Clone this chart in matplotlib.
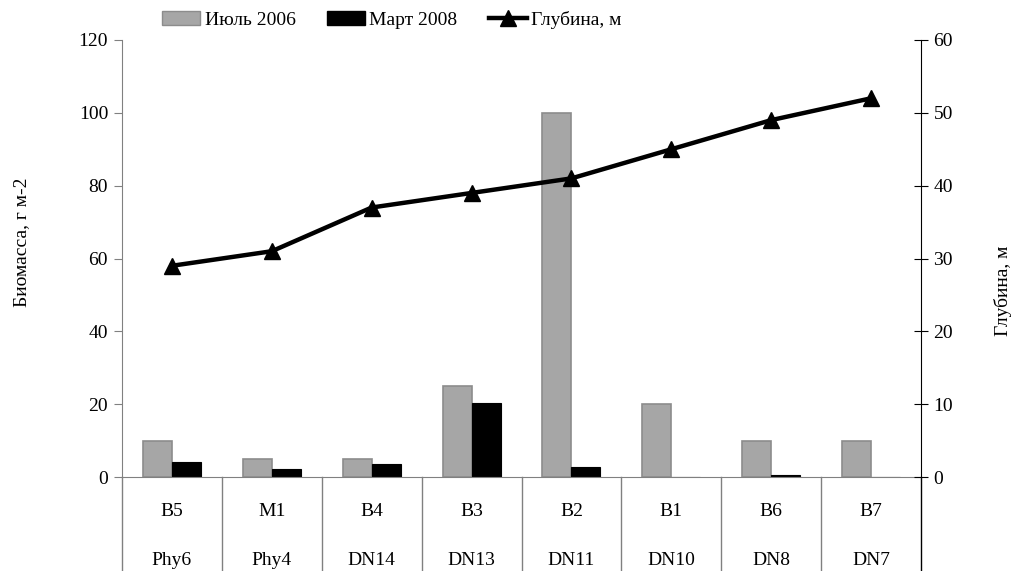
import matplotlib
matplotlib.use("Agg")
import matplotlib.pyplot as plt
import numpy as np
from matplotlib.lines import Line2D

plt.rcParams['font.family'] = ['Liberation Serif', 'DejaVu Serif']

stations = ["B5", "M1", "B4", "B3", "B2", "B1", "B6", "B7"]
sites = ["Phy6", "Phy4", "DN14", "DN13", "DN11", "DN10", "DN8", "DN7"]
biomass_jul2006 = [10, 5, 5, 25, 100, 20, 10, 10]
biomass_mar2008 = [4.2, 2.2, 3.7, 20.2, 2.7, 0, 0.5, 0]
depth = [29, 31, 37, 39, 41, 45, 49, 52]

fig = plt.figure(figsize=(10.15, 5.71), dpi=100)
ax = fig.add_axes([122 / 1015, 1 - 477 / 571, 799 / 1015, 437 / 571])
ax2 = ax.twinx()

x = np.arange(len(stations))
w = 0.29
ax.bar(x - w / 2, biomass_jul2006, w, color="#A6A6A6", edgecolor="#8C8C8C",
       linewidth=1.2, zorder=2)
ax.bar(x + w / 2, biomass_mar2008, w, color="black", edgecolor="black",
       linewidth=0.8, zorder=2)
ax2.plot(x, depth, color="black", linewidth=3.2, marker="^", markersize=12, zorder=3)

ax.set_xlim(-0.5, len(stations) - 0.5)
ax.set_ylim(0, 120)
ax.set_yticks(range(0, 121, 20))
ax2.set_ylim(0, 60)
ax2.set_yticks(range(0, 61, 10))

for a in (ax, ax2):
    a.spines['top'].set_visible(False)
ax.spines['right'].set_visible(False)
ax.spines['left'].set_color("#808080")
ax.spines['bottom'].set_color("#808080")
ax2.spines['left'].set_visible(False)
ax2.spines['bottom'].set_visible(False)
ax2.spines['right'].set_color("black")

ax.tick_params(axis='y', labelsize=14, length=6, color="#808080", pad=4)
ax2.tick_params(axis='y', labelsize=14, length=10, direction='inout', color="black", pad=4)
ax.set_xticks([])

# two-level category labels with separators
for i, (s, site) in enumerate(zip(stations, sites)):
    ax.text(i, -9.6, s, ha='center', va='center', fontsize=14)
    ax.text(i, -23.0, site, ha='center', va='center', fontsize=14)
for b in np.arange(-0.5, len(stations), 1.0):
    ax.plot([b, b], [0, -30], color="#808080" if b < len(stations) - 1 else "black",
            linewidth=1, clip_on=False, zorder=1)

fig.text(22 / 1015, 1 - 242 / 571, "Биомасса, г м-2", rotation=90,
         ha='center', va='center', fontsize=14)
fig.text(1003 / 1015, 1 - 291 / 571, "Глубина, м", rotation=90,
         ha='center', va='center', fontsize=14)

handles = [
    plt.Rectangle((0, 0), 1, 1, facecolor="#A6A6A6", edgecolor="#8C8C8C"),
    plt.Rectangle((0, 0), 1, 1, facecolor="black", edgecolor="black"),
    Line2D([], [], color="black", linewidth=3.2, marker="^", markersize=12),
]
fig.legend(handles, ["Июль 2006", "Март 2008", "Глубина, м"], loc='center',
           bbox_to_anchor=(0.386, 0.965), ncol=3, frameon=False, fontsize=14,
           handlelength=1.95, handletextpad=0.25, columnspacing=1.6,
           borderpad=0.2)

fig.savefig("out.png", dpi=100)
